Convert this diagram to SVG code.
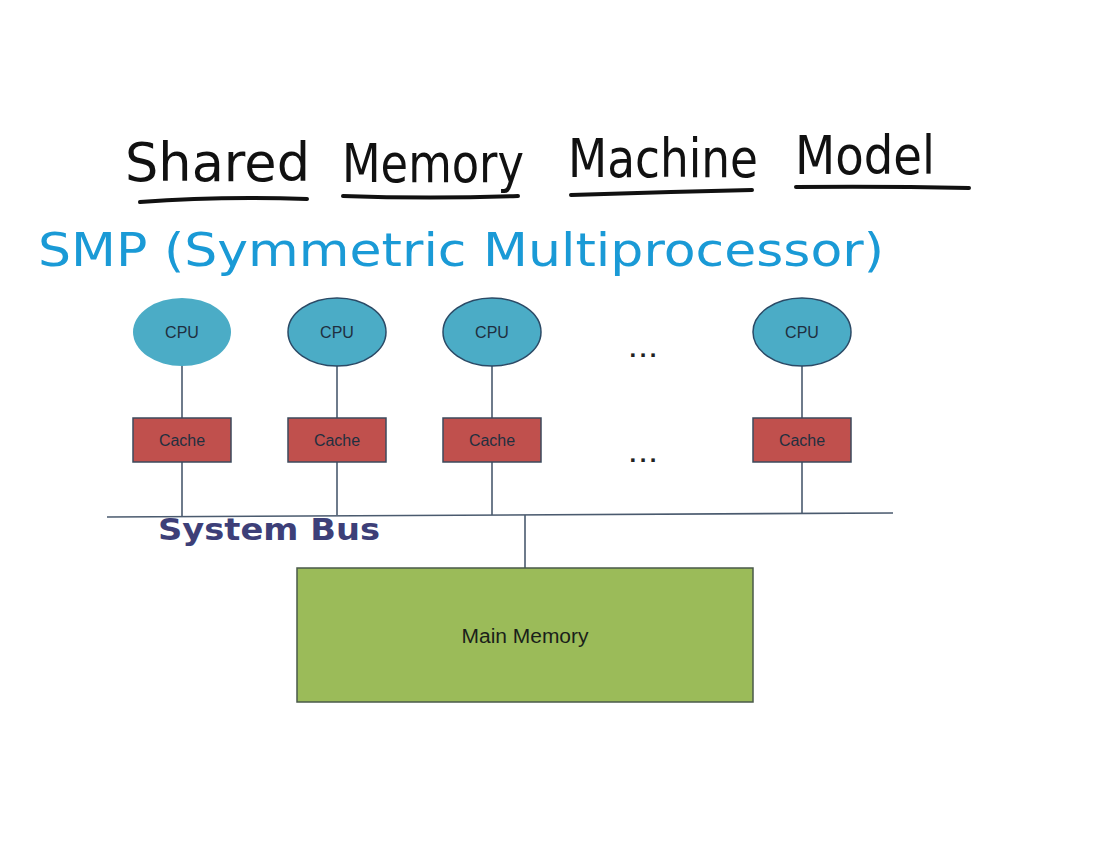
<svg xmlns="http://www.w3.org/2000/svg" width="1098" height="847" viewBox="0 0 1098 847">
<style>
.cpu{fill:#4bacc6;stroke:#2b4a66;stroke-width:1.5}
.cache{fill:#c0504d;stroke:#3c4a5c;stroke-width:1.5}
.lbl{font-family:"Liberation Sans",Arial,sans-serif;font-size:16px;fill:#1f2f3f;text-anchor:middle}
.conn{stroke:#4a5a6e;stroke-width:1.6;fill:none}
.hand{font-family:"DejaVu Sans","Liberation Sans",sans-serif;}
.ul{stroke:#111;stroke-width:4;stroke-linecap:round;fill:none}
</style>
<rect width="1098" height="847" fill="#ffffff"/>
<g id="title">
<text class="hand" x="125" y="181" font-size="54" fill="#111" textLength="185" lengthAdjust="spacingAndGlyphs">Shared</text>
<text class="hand" x="342" y="182" font-size="54" fill="#111" textLength="182" lengthAdjust="spacingAndGlyphs">Memory</text>
<text class="hand" x="568" y="177" font-size="54" fill="#111" textLength="190" lengthAdjust="spacingAndGlyphs">Machine</text>
<text class="hand" x="795" y="174" font-size="54" fill="#111" textLength="140" lengthAdjust="spacingAndGlyphs">Model</text>
<path class="ul" d="M140 202 Q220 196 307 199"/>
<path class="ul" d="M343 196 Q430 199 518 196"/>
<path class="ul" d="M571 195 Q660 192 752 190"/>
<path class="ul" d="M796 187 Q880 186 969 188"/>
</g>
<g id="subtitle">
<text class="hand" x="38" y="266" font-size="46" fill="#1a9ad6" textLength="846" lengthAdjust="spacingAndGlyphs">SMP (Symmetric Multiprocessor)</text>
</g>
<g id="connectors">
<line class="conn" x1="182" y1="366" x2="182" y2="418"/>
<line class="conn" x1="337" y1="366" x2="337" y2="418"/>
<line class="conn" x1="492" y1="366" x2="492" y2="418"/>
<line class="conn" x1="802" y1="366" x2="802" y2="418"/>
<line class="conn" x1="182" y1="462" x2="182" y2="516"/>
<line class="conn" x1="337" y1="462" x2="337" y2="515"/>
<line class="conn" x1="492" y1="462" x2="492" y2="515"/>
<line class="conn" x1="802" y1="462" x2="802" y2="514"/>
<line class="conn" x1="107" y1="517" x2="893" y2="513"/>
<line class="conn" x1="525" y1="515" x2="525" y2="568"/>
</g>
<g id="cpu1"><ellipse class="cpu" cx="182" cy="332" rx="49" ry="34" style="stroke:none"/><text class="lbl" x="182" y="338">CPU</text></g>
<g id="cpu2"><ellipse class="cpu" cx="337" cy="332" rx="49" ry="34"/><text class="lbl" x="337" y="338">CPU</text></g>
<g id="cpu3"><ellipse class="cpu" cx="492" cy="332" rx="49" ry="34"/><text class="lbl" x="492" y="338">CPU</text></g>
<g id="cpu4"><ellipse class="cpu" cx="802" cy="332" rx="49" ry="34"/><text class="lbl" x="802" y="338">CPU</text></g>
<g id="cache1"><rect class="cache" x="133" y="418" width="98" height="44"/><text class="lbl" x="182" y="446">Cache</text></g>
<g id="cache2"><rect class="cache" x="288" y="418" width="98" height="44"/><text class="lbl" x="337" y="446">Cache</text></g>
<g id="cache3"><rect class="cache" x="443" y="418" width="98" height="44"/><text class="lbl" x="492" y="446">Cache</text></g>
<g id="cache4"><rect class="cache" x="753" y="418" width="98" height="44"/><text class="lbl" x="802" y="446">Cache</text></g>
<g id="dots">
<text class="lbl" x="643" y="357" textLength="27" lengthAdjust="spacing" style="font-size:24px;font-weight:bold;fill:#222">...</text>
<text class="lbl" x="643" y="462" textLength="27" lengthAdjust="spacing" style="font-size:24px;font-weight:bold;fill:#222">...</text>
</g>
<g id="memory"><rect x="297" y="568" width="456" height="134" fill="#9bbb59" stroke="#4a5a4a" stroke-width="1.5"/><text class="lbl" x="525" y="643" textLength="127" lengthAdjust="spacingAndGlyphs" style="font-size:20px;fill:#1a1f1a">Main Memory</text></g>
<g id="busLabel"><text class="hand" x="158" y="540" font-size="30" fill="#3d3f78" font-weight="bold" textLength="222" lengthAdjust="spacingAndGlyphs">System Bus</text></g>
</svg>
